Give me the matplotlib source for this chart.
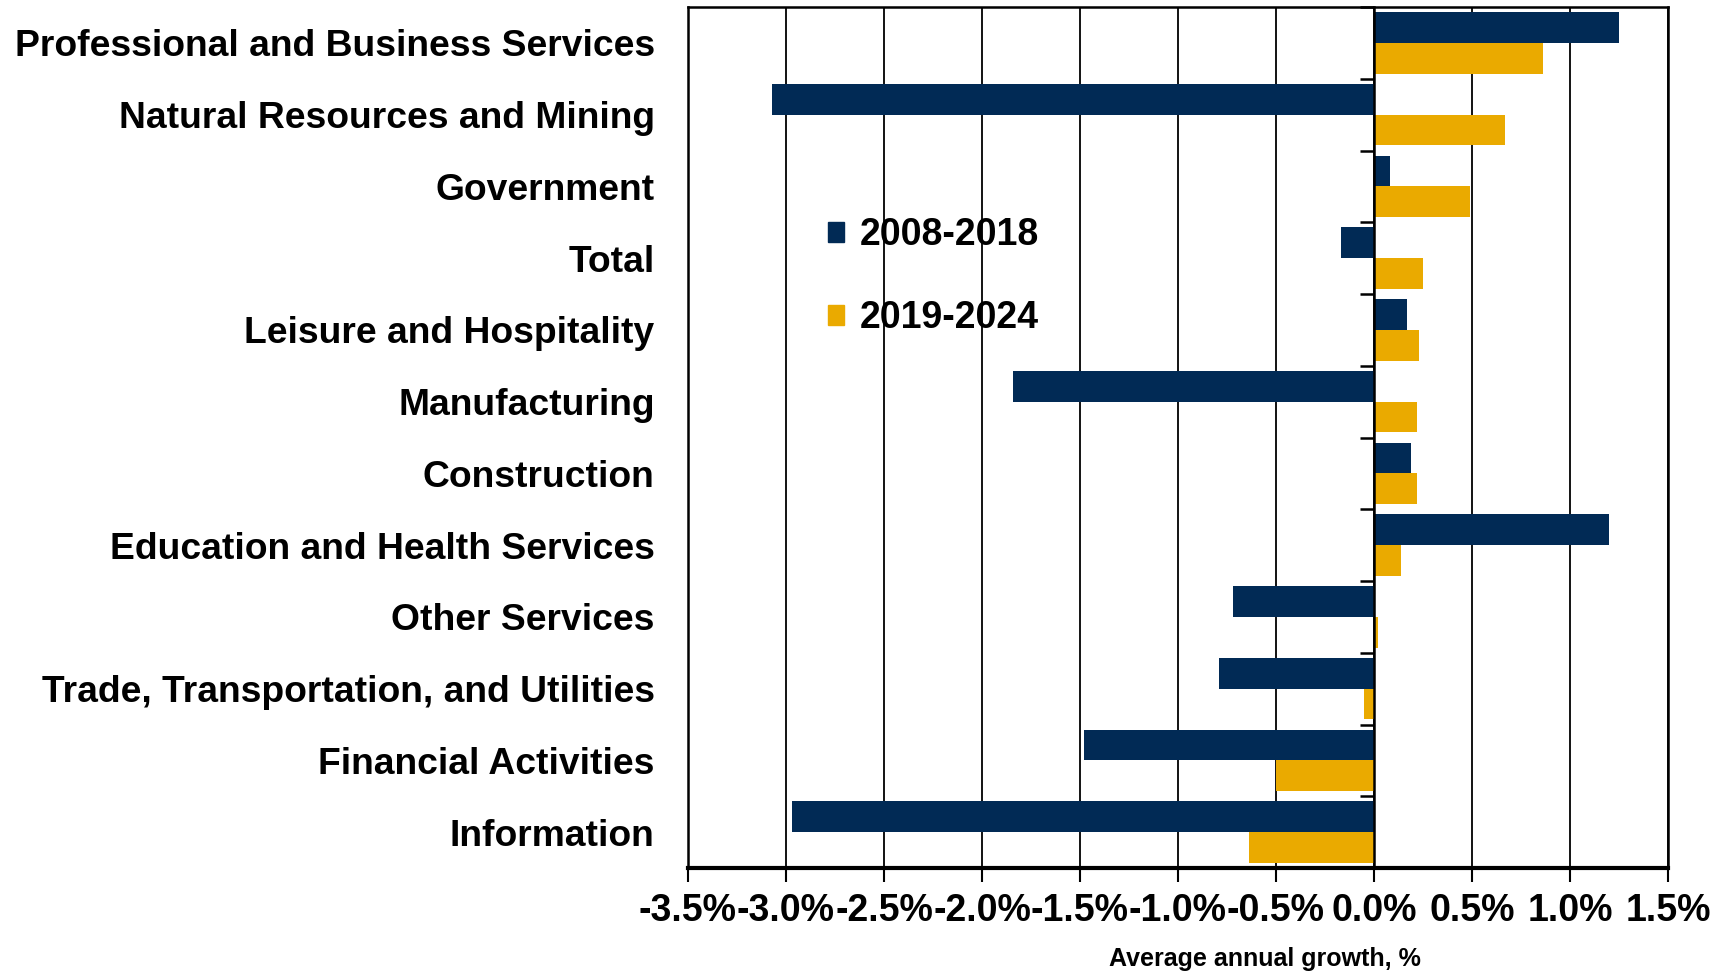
import numpy as np
import matplotlib
matplotlib.use("Agg")
import matplotlib.pyplot as plt
from matplotlib.patches import Patch

categories = [
    "Professional and Business Services",
    "Natural Resources and Mining",
    "Government",
    "Total",
    "Leisure and Hospitality",
    "Manufacturing",
    "Construction",
    "Education and Health Services",
    "Other Services",
    "Trade, Transportation, and Utilities",
    "Financial Activities",
    "Information",
]
growth_2008_2018 = [1.25, -3.07, 0.08, -0.17, 0.17, -1.84, 0.19, 1.20, -0.72, -0.79, -1.48, -2.97]
growth_2019_2024 = [0.86, 0.67, 0.49, 0.25, 0.23, 0.22, 0.22, 0.14, 0.02, -0.05, -0.50, -0.64]
series_labels = ["2008-2018", "2019-2024"]
xticks = [-3.5, -3.0, -2.5, -2.0, -1.5, -1.0, -0.5, 0.0, 0.5, 1.0, 1.5]

NAVY = "#012a55"
GOLD = "#eaaa00"

plt.rcParams["font.family"] = ["Liberation Sans", "DejaVu Sans"]

fig = plt.figure(figsize=(17.18, 9.77), dpi=100)
ax = fig.add_axes([688 / 1718, 1 - 868 / 977, 980 / 1718, 861 / 977])

y = np.arange(len(categories))
h = 0.43
ax.barh(y - h / 2, growth_2008_2018, height=h, color=NAVY, zorder=3)
ax.barh(y + h / 2, growth_2019_2024, height=h, color=GOLD, zorder=3)

ax.set_xlim(-3.5, 1.5)
ax.set_ylim(len(categories) - 0.5, -0.5)
ax.set_xticks(xticks)
ax.set_xticklabels([f"{t:.1f}%" for t in xticks], fontsize=27, fontweight="bold")
ax.tick_params(axis="x", length=10, width=1.5, pad=8, direction="out")
ax.set_yticks(y)
ax.set_yticklabels(categories, fontsize=26.8, fontweight="bold")
ax.tick_params(axis="y", length=0, pad=24)

for t in xticks:
    ax.axvline(t, color="black", lw=1.3, zorder=1)

for side in ["left", "right", "top"]:
    ax.spines[side].set_linewidth(1.8)
ax.spines["bottom"].set_linewidth(3)

# zero axis with category boundary ticks
ax2 = ax.twinx()
ax2.set_ylim(ax.get_ylim())
ax2.spines["left"].set_position(("data", 0))
ax2.spines["left"].set_linewidth(1.8)
ax2.spines["left"].set_zorder(4)
for side in ["right", "top", "bottom"]:
    ax2.spines[side].set_visible(False)
ax2.yaxis.set_ticks_position("left")
ax2.set_yticks(np.arange(-0.5, len(categories), 1.0))
ax2.set_yticklabels([])
ax2.tick_params(axis="y", length=10, width=1.8, direction="out")

ax.set_xlabel("Average annual growth, %", fontsize=18, fontweight="bold")
ax.xaxis.set_label_coords(0.589, -0.092)

handles = [Patch(color=NAVY), Patch(color=GOLD)]
ax.legend(handles, series_labels, loc="upper left", bbox_to_anchor=(0.108, 0.795),
          frameon=False, prop={"size": 27, "weight": "bold"},
          handlelength=0.45, handleheight=0.45, handletextpad=0.4, labelspacing=1.25)

fig.savefig("out.png", dpi=100)
